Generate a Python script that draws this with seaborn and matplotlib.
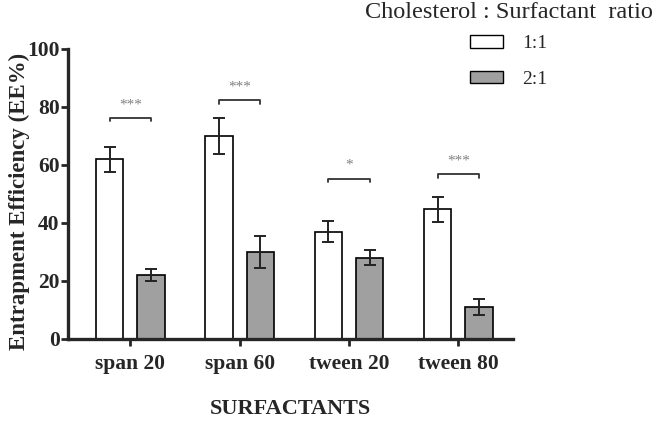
import numpy as np
import pandas as pd
import seaborn as sns
import matplotlib.pyplot as plt
from matplotlib.patches import Patch

# data
surfactants = ['span 20', 'span 60', 'tween 20', 'tween 80']
ratios = ['1:1', '2:1']
ee_1to1 = [62, 70, 37, 44.7]
ee_2to1 = [22, 30, 28, 11]
sd_1to1 = [4.3, 6.2, 3.7, 4.3]
sd_2to1 = [2.0, 5.4, 2.6, 2.7]
bracket_y = [76.3, 82.4, 55.3, 56.8]
stars = ['***', '***', '*', '***']

sns.set_style('ticks')
plt.rcParams['font.family'] = ['Liberation Serif', 'DejaVu Serif']

df = pd.DataFrame({
    'surfactant': surfactants * 2,
    'ratio': [ratios[0]] * 4 + [ratios[1]] * 4,
    'ee': ee_1to1 + ee_2to1,
    'sd': sd_1to1 + sd_2to1,
})

fig = plt.figure(figsize=(6.57, 4.22), dpi=100)
ax = fig.add_axes([68 / 657, 1 - 339 / 422, (513 - 68) / 657, 290 / 422])

colors = {'1:1': 'white', '2:1': '#a0a0a0'}
sns.barplot(data=df, x='surfactant', y='ee', hue='ratio', order=surfactants,
            hue_order=ratios, palette=colors, edgecolor='black', linewidth=1.2,
            width=0.76, gap=0.34, errorbar=None, legend=False, ax=ax)

# error bars on top of each bar
bars = ax.patches[:len(df)]
xs = [b.get_x() + b.get_width() / 2 for b in bars]
hs = [b.get_height() for b in bars]
ax.errorbar(xs, hs, yerr=df['sd'], fmt='none', ecolor='#222222',
            elinewidth=1.4, capsize=4.5, capthick=1.4, zorder=5)

# significance brackets
n = len(surfactants)
for i in range(n):
    x1, x2 = xs[i], xs[i + n]
    y = bracket_y[i]
    ax.plot([x1, x1, x2, x2], [y - 1.2, y, y, y - 1.2], color='#333333', lw=1.3)
    ax.text((x1 + x2) / 2, y + 2.3, stars[i], ha='center', va='bottom',
            color='#808080', fontsize=11)

ax.set_xlim(-0.57, 3.5)
ax.set_ylim(0, 100)
ax.set_yticks([0, 20, 40, 60, 80, 100])
sns.despine(ax=ax)
for s in ['left', 'bottom']:
    ax.spines[s].set_linewidth(2.4)
ax.tick_params(axis='both', width=2, length=5, labelsize=15.5)
ax.tick_params(axis='y', pad=1)
ax.tick_params(axis='x', pad=6)
for lab in ax.get_xticklabels() + ax.get_yticklabels():
    lab.set_fontweight('bold')

ax.set_xlabel('SURFACTANTS', fontsize=16, fontweight='bold', labelpad=18)
ax.set_ylabel('Entrapment Efficiency (EE%)', fontsize=16.5, fontweight='bold')
ax.yaxis.set_label_coords(-0.086, 0.475)

# legend
fig.text(365 / 657, 1 - 13 / 422, 'Cholesterol : Surfactant  ratio',
         fontsize=17.5, va='center', ha='left')
handles = [Patch(facecolor=colors[r], edgecolor='black', linewidth=1) for r in ratios]
fig.legend(handles, ratios, loc='upper left', bbox_to_anchor=(470 / 657, 1 - 35 / 422),
           frameon=False, fontsize=14, handlelength=1.7, handleheight=0.62,
           handletextpad=1.0, labelspacing=0.95, borderpad=0, borderaxespad=0)

fig.savefig('out.png', dpi=100)
